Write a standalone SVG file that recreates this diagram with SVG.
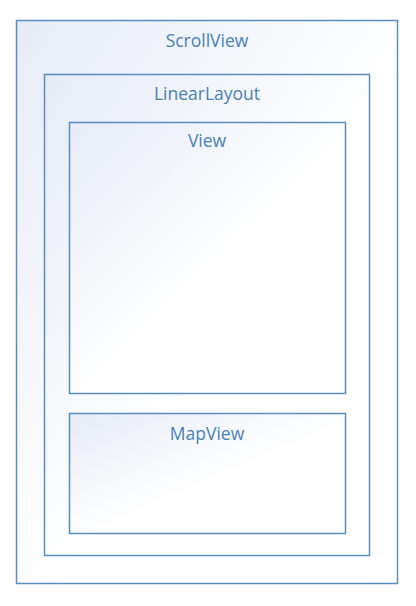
<svg xmlns="http://www.w3.org/2000/svg" width="416" height="606" viewBox="0 0 416 606">
<style>
.box{stroke:#5b8cc0;stroke-width:1.5;fill:url(#g)}
.lbl{font-family:"Open Sans","Noto Sans",sans-serif;font-size:17.5px;fill:#4a7fb9;text-anchor:middle}
</style>
<defs>
<linearGradient id="g" x1="0" y1="0" x2="1" y2="1">
<stop offset="0" stop-color="#e6ebf6"/>
<stop offset="0.55" stop-color="#ffffff"/>
<stop offset="1" stop-color="#ffffff"/>
</linearGradient>
</defs>
<rect width="416" height="606" fill="#ffffff"/>
<g id="ScrollView">
<rect class="box" x="16.5" y="20.5" width="381" height="563"/>
<text class="lbl" x="207" y="47">ScrollView</text>
</g>
<g id="LinearLayout">
<rect class="box" x="44.5" y="74.5" width="325" height="481"/>
<text class="lbl" x="207" y="100">LinearLayout</text>
</g>
<g id="View">
<rect class="box" x="69.5" y="122.5" width="276" height="271"/>
<text class="lbl" x="207" y="147">View</text>
</g>
<g id="MapView">
<rect class="box" x="69.5" y="413.5" width="276" height="120"/>
<text class="lbl" x="207" y="439.5">MapView</text>
</g>
<g id="connectors"></g>
</svg>
